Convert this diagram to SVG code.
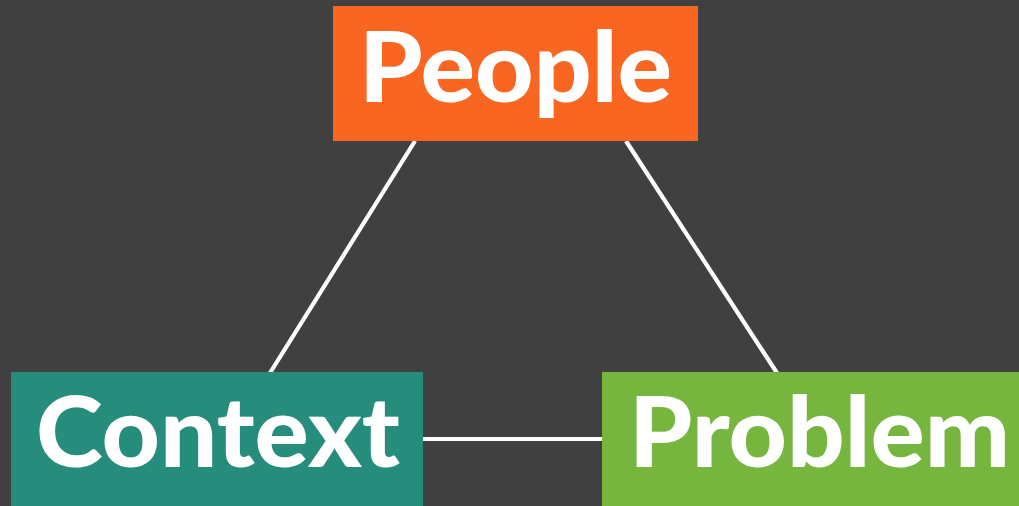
<svg xmlns="http://www.w3.org/2000/svg" width="1019" height="506" viewBox="0 0 1019 506">
<style>
.lbl{font-family:"Lato","Open Sans","Liberation Sans",sans-serif;font-weight:900;font-size:97px;fill:#ffffff}
.con{stroke:#ffffff;fill:none;stroke-width:4.2}
</style>
<rect width="1019" height="506" fill="#404040"/>
<g id="connectors">
<line class="con" x1="415" y1="141" x2="270" y2="373"/>
<line class="con" x1="626" y1="141" x2="777" y2="373"/>
<line class="con" x1="422" y1="439" x2="603" y2="439" stroke-width="3.5"/>
</g>
<g id="people">
<rect x="333" y="6" width="365" height="135" fill="#F96622"/>
<text class="lbl" x="359" y="102" textLength="313" lengthAdjust="spacingAndGlyphs">People</text>
</g>
<g id="context">
<rect x="11" y="372" width="412" height="134" fill="#268C7B"/>
<text class="lbl" x="36" y="467" textLength="364" lengthAdjust="spacingAndGlyphs">Context</text>
</g>
<g id="problem">
<rect x="602" y="372" width="417" height="134" fill="#76B53E"/>
<text class="lbl" x="629" y="467" textLength="381" lengthAdjust="spacingAndGlyphs">Problem</text>
</g>
</svg>
